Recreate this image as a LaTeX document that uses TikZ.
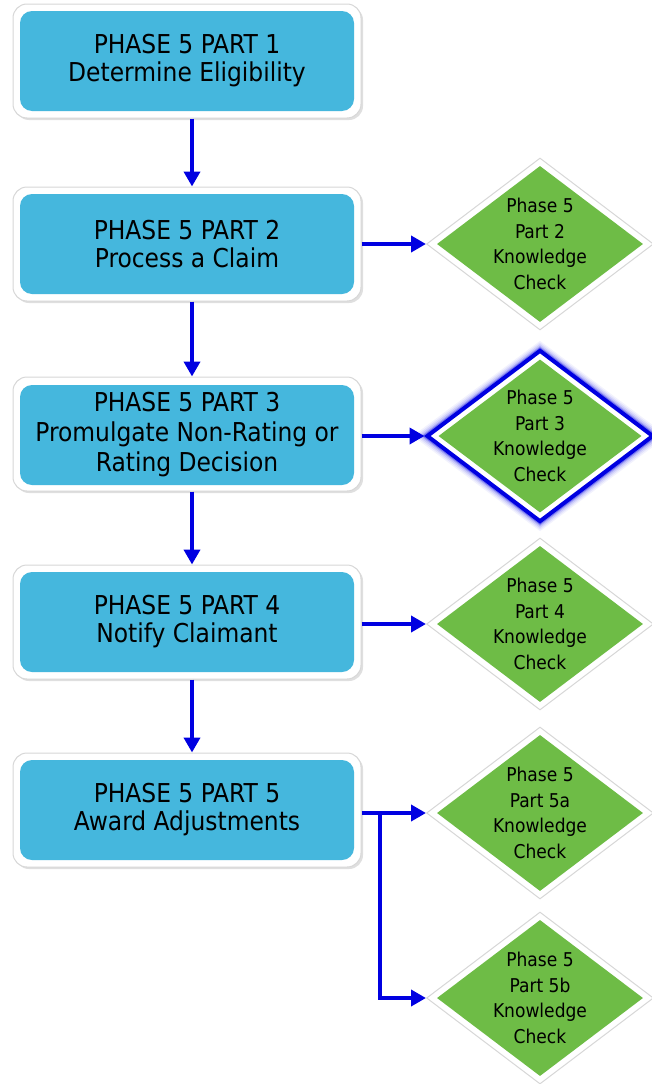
\documentclass[tikz,border=0pt]{standalone}
\usepackage{fontspec}
\setmainfont{DejaVu Sans Condensed}
\usetikzlibrary{shapes.geometric,arrows.meta,shadows}
\definecolor{boxblue}{RGB}{69,183,221}
\definecolor{kgreen}{RGB}{110,188,70}
\definecolor{arrblue}{RGB}{0,0,225}
\definecolor{rimgray}{RGB}{215,215,215}
\begin{document}
\begin{tikzpicture}[x=1pt,y=-1pt,
  outerbox/.style={draw=rimgray,line width=1pt,fill=white,rounded corners=14pt,
    minimum width=348pt,minimum height=114pt,drop shadow={opacity=0.25,shadow xshift=2pt,shadow yshift=-2pt}},
  innerbox/.style={fill=boxblue,rounded corners=12pt,minimum width=334pt,minimum height=100pt,
    align=center,font=\fontsize{26}{28}\selectfont,inner sep=0pt},
  outerdia/.style={diamond,draw=rimgray,line width=1pt,fill=white,minimum width=227pt,minimum height=172pt,inner sep=0pt},
  innerdia/.style={diamond,fill=kgreen,minimum width=206pt,minimum height=156pt,inner sep=0pt},
  diatext/.style={align=center,font=\fontsize{19}{25.5}\selectfont,inner sep=0pt},
  conn/.style={draw=arrblue,line width=4pt,-{Triangle[length=15pt,width=16pt]}}
]
\useasboundingbox (0,0) rectangle (652,1084);
% boxes
\node[outerbox] (b1) at (187,61) {};
\node[innerbox] (b1i) at (b1.center) {PHASE 5 PART 1\\Determine Eligibility};
\node[outerbox] (b2) at (187,244) {};
\node[innerbox] (b2i) at (b2.center) {PHASE 5 PART 2\\Process a Claim};
\node[outerbox] (b3) at (187,434) {};
\node[innerbox,font=\fontsize{26}{30}\selectfont] (b3i) at ([yshift=-1pt]b3.center) {PHASE 5 PART 3\\Promulgate Non-Rating or\\Rating Decision};
\node[outerbox] (b4) at (187,622) {};
\node[innerbox] (b4i) at (b4.center) {PHASE 5 PART 4\\Notify Claimant};
\node[outerbox] (b5) at (187,810) {};
\node[innerbox] (b5i) at (b5.center) {PHASE 5 PART 5\\Award Adjustments};
% diamonds
\node[outerdia] (d2) at (540,244) {};
\node[innerdia] (d2i) at (d2.center) {};
\node[diatext] (d2t) at (d2.center) {Phase 5\\Part 2\\Knowledge\\Check};
% glow for d3
\foreach \w/\o in {22/0.05,18/0.07,14/0.1,10/0.16,7/0.3}{
  \node[diamond,draw=arrblue,line width=\w pt,opacity=\o,minimum width=227pt,minimum height=172pt,inner sep=0pt] at (540,436) {};
}
\node[outerdia,draw=arrblue,line width=4pt] (d3) at (540,436) {};
\node[innerdia,minimum width=203pt,minimum height=153pt] (d3i) at (d3.center) {};
\node[diatext] (d3t) at (d3.center) {Phase 5\\Part 3\\Knowledge\\Check};
\node[outerdia] (d4) at (540,624) {};
\node[innerdia] (d4i) at (d4.center) {};
\node[diatext] (d4t) at (d4.center) {Phase 5\\Part 4\\Knowledge\\Check};
\node[outerdia] (d5a) at (540,813) {};
\node[innerdia] (d5ai) at (d5a.center) {};
\node[diatext] (d5at) at (d5a.center) {Phase 5\\Part 5a\\Knowledge\\Check};
\node[outerdia] (d5b) at (540,998) {};
\node[innerdia] (d5bi) at (d5b.center) {};
\node[diatext] (d5bt) at (d5b.center) {Phase 5\\Part 5b\\Knowledge\\Check};
% vertical connectors
\draw[conn] ([xshift=5pt]b1.south) -- ([xshift=5pt]b2.north);
\draw[conn] ([xshift=5pt]b2.south) -- ([xshift=5pt]b3.north);
\draw[conn] ([xshift=5pt]b3.south) -- ([xshift=5pt]b4.north);
\draw[conn] ([xshift=5pt]b4.south) -- ([xshift=5pt]b5.north);
% horizontal connectors
\draw[conn] (b2.east |- d2.west) -- (d2.west);
\draw[conn] (b3.east |- d3.west) -- (d3.west);
\draw[conn] (b4.east |- d4.west) -- (d4.west);
\coordinate (br) at (380,813);
\draw[conn] (b5.east |- d5a.west) -- (d5a.west);
\draw[conn] ([yshift=-2pt]br) -- (br |- d5b.west) -- (d5b.west);
\end{tikzpicture}
\end{document}
